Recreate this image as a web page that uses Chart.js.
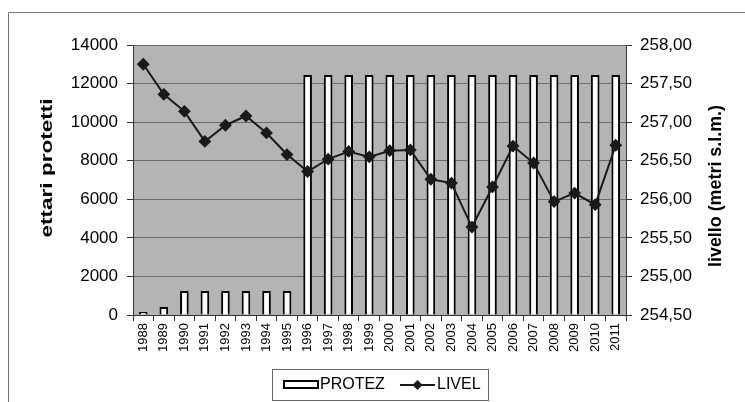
<!DOCTYPE html>
<html>
<head>
<meta charset="utf-8">
<script src="https://cdn.jsdelivr.net/npm/chart.js@4"></script>
<style>
html,body{margin:0;padding:0;background:#fff;}
#wrap{width:745px;height:402px;}
</style>
</head>
<body>
<div id="wrap"><canvas id="c" width="745" height="402"></canvas></div>
<script>
const years = ['1988','1989','1990','1991','1992','1993','1994','1995','1996','1997','1998','1999','2000','2001','2002','2003','2004','2005','2006','2007','2008','2009','2010','2011'];
const protez = [150,420,1250,1250,1250,1250,1250,1250,12450,12450,12450,12450,12450,12450,12450,12450,12450,12450,12450,12450,12450,12450,12450,12450];
const livel = [257.75,257.36,257.14,256.75,256.96,257.08,256.86,256.58,256.36,256.52,256.62,256.55,256.63,256.64,256.26,256.21,255.64,256.16,256.69,256.47,255.97,256.08,255.93,256.70];
const leftTicks = [0,2000,4000,6000,8000,10000,12000,14000];
const rightTicks = [254.5,255,255.5,256,256.5,257,257.5,258];
const leftTitle = 'ettari protetti';
const rightTitle = 'livello (metri s.l.m.)';

const FONT = "'Liberation Sans', Arial, sans-serif";

function drawVTitle(ctx, text, cx, cy, len, size) {
  ctx.save();
  ctx.font = "bold " + size + "px " + FONT;
  const w = ctx.measureText(text).width;
  ctx.translate(cx, cy);
  ctx.rotate(-Math.PI / 2);
  ctx.scale(len / w, 1);
  ctx.fillStyle = '#000';
  ctx.textAlign = 'center';
  ctx.textBaseline = 'middle';
  ctx.fillText(text, 0, 0);
  ctx.restore();
}

const framePlugin = {
  id: 'frame',
  beforeDraw(chart) {
    const ctx = chart.ctx, a = chart.chartArea;
    ctx.save();
    ctx.strokeStyle = '#777';
    ctx.lineWidth = 1;
    ctx.beginPath();
    ctx.moveTo(8.5, 402); ctx.lineTo(8.5, 12.5); ctx.lineTo(745, 12.5);
    ctx.stroke();
    ctx.fillStyle = '#b4b4b4';
    ctx.fillRect(a.left, a.top, a.right - a.left, a.bottom - a.top);
    ctx.restore();
  },
  afterDraw(chart) {
    const ctx = chart.ctx;
    drawVTitle(ctx, leftTitle, 47, 168, 139, 17);
    drawVTitle(ctx, rightTitle, 716, 186, 162, 18);
    ctx.save();
    ctx.strokeStyle = '#666';
    ctx.lineWidth = 1;
    ctx.strokeRect(272.5, 369.5, 216, 31);
    ctx.fillStyle = '#fff';
    ctx.strokeStyle = '#000';
    ctx.lineWidth = 2;
    ctx.fillRect(284, 381, 34, 7);
    ctx.strokeRect(284, 381, 34, 7);
    ctx.fillStyle = '#000';
    ctx.font = "16px " + FONT;
    ctx.textBaseline = 'middle';
    ctx.textAlign = 'left';
    ctx.fillText(chart.data.datasets[1].label, 320, 385);
    ctx.strokeStyle = '#1a1a1a';
    ctx.lineWidth = 2;
    ctx.beginPath(); ctx.moveTo(400, 385); ctx.lineTo(435, 385); ctx.stroke();
    ctx.fillStyle = '#1a1a1a';
    ctx.beginPath();
    ctx.moveTo(417.5, 380); ctx.lineTo(422.5, 385); ctx.lineTo(417.5, 390); ctx.lineTo(412.5, 385); ctx.closePath();
    ctx.fill();
    ctx.fillStyle = '#000';
    ctx.fillText(chart.data.datasets[0].label, 437, 385);
    ctx.restore();
  }
};

new Chart(document.getElementById('c'), {
  data: {
    labels: years,
    datasets: [
      {
        type: 'line', label: 'LIVEL', data: livel, yAxisID: 'y1',
        borderColor: '#1a1a1a', backgroundColor: '#1a1a1a', borderWidth: 2,
        pointStyle: 'rectRot', pointRadius: 5, pointHoverRadius: 5, tension: 0, order: 0
      },
      {
        type: 'bar', label: 'PROTEZ', data: protez, yAxisID: 'y',
        backgroundColor: '#fcfcfc', borderColor: '#000', borderWidth: 2,
        barPercentage: 0.42, categoryPercentage: 1, order: 1
      }
    ]
  },
  options: {
    responsive: false,
    animation: false,
    devicePixelRatio: 1,
    layout: { padding: { top: 45, left: 0, right: 0, bottom: 0 } },
    plugins: { legend: { display: false }, tooltip: { enabled: false } },
    scales: {
      x: {
        afterFit(s) { s.height = 87; },
        grid: { display: true, drawOnChartArea: false, offset: true, tickLength: 6, color: '#333' },
        border: { color: '#333', width: 1 },
        ticks: { color: '#000', font: { family: FONT, size: 13 }, minRotation: 90, maxRotation: 90, padding: 2 }
      },
      y: {
        position: 'left', min: 0, max: 14000,
        afterFit(s) { s.width = 133; },
        afterBuildTicks(s) { s.ticks = leftTicks.map(v => ({ value: v })); },
        grid: { color: '#6a6a6a', tickLength: 6, tickColor: '#333' },
        border: { color: '#333', width: 1 },
        ticks: { color: '#000', font: { family: FONT, size: 17 }, padding: 9, callback: v => String(v) }
      },
      y1: {
        position: 'right', min: 254.5, max: 258,
        afterFit(s) { s.width = 119; },
        afterBuildTicks(s) { s.ticks = rightTicks.map(v => ({ value: v })); },
        grid: { drawOnChartArea: false, tickLength: 6, color: '#333' },
        border: { color: '#333', width: 1 },
        ticks: { color: '#000', font: { family: FONT, size: 17 }, padding: 8,
          callback: v => Number(v).toFixed(2).replace('.', ',') }
      }
    }
  },
  plugins: [framePlugin]
});
</script>
</body>
</html>
